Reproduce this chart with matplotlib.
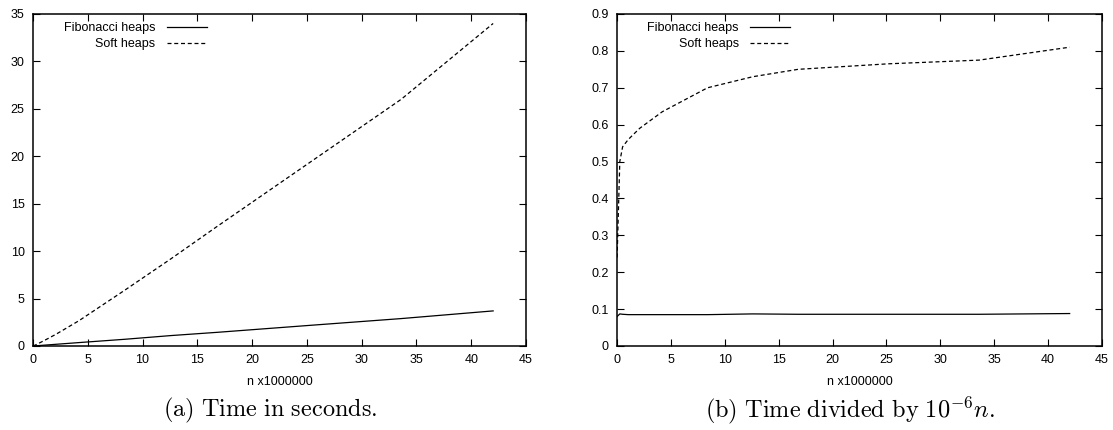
import matplotlib
matplotlib.use("Agg")
import matplotlib.pyplot as plt

plt.rcParams["font.family"] = ["Liberation Sans", "DejaVu Sans"]
plt.rcParams["mathtext.fontset"] = "cm"

# | ================= Data ================= |

N = [0.01, 0.26, 0.52, 1.05, 2.1, 4.2, 8.4, 12.6, 16.8, 25.2, 33.6, 42.0]

# (a) time in seconds
fib_time  = [0.0, 0.02, 0.045, 0.09, 0.18, 0.36, 0.71, 1.10, 1.44, 2.17, 2.89, 3.70]
soft_time = [0.0, 0.13, 0.28, 0.59, 1.24, 2.67, 5.90, 9.20, 12.6, 19.3, 26.0, 34.0]

# (b) time divided by 1e-6 n
fib_ratio  = [0.080, 0.087, 0.086, 0.085, 0.085, 0.085, 0.085, 0.087, 0.086, 0.086, 0.086, 0.088]
soft_ratio = [0.24, 0.50, 0.54, 0.56, 0.59, 0.635, 0.70, 0.73, 0.75, 0.765, 0.775, 0.81]

CAPTIONS = [r"$\mathrm{(a)\ Time\ in\ seconds.}$",
            r"$\mathrm{(b)\ Time\ divided\ by\ }10^{-6}n\mathrm{.}$"]

# | ================= Plot ================= |

W, H = 1113, 430
fig = plt.figure(figsize=(W / 100, H / 100), dpi=100)

def px_axes(x0, x1, y0, y1):
    return fig.add_axes([x0 / W, 1 - y1 / H, (x1 - x0) / W, (y1 - y0) / H])

ax_a = px_axes(33, 526, 14, 346)
ax_b = px_axes(617, 1102, 14, 346)

DASH = (0, (3.2, 2.2))

def style(ax, ymax, yticks):
    ax.set_xlim(0, 45)
    ax.set_ylim(0, ymax)
    ax.set_xticks(range(0, 46, 5))
    ax.set_yticks(yticks)
    ax.tick_params(direction="in", length=5, width=0.8, top=True, right=True,
                   labelsize=9, pad=6, colors="black")
    for s in ax.spines.values():
        s.set_linewidth(1.1)
    ax.set_xlabel("n x1000000", fontsize=9, labelpad=7)
    ax.legend(loc="upper left", bbox_to_anchor=(0.046, 1.0), frameon=False,
              markerfirst=False, fontsize=9, handlelength=3.2,
              handletextpad=0.9, labelspacing=0.3, borderaxespad=0.25)

ax_a.plot([0] + N, [0] + fib_time, color="black", lw=0.9, label="Fibonacci heaps")
ax_a.plot([0] + N, [0] + soft_time, color="black", lw=0.9, linestyle=DASH,
          label="Soft heaps")
style(ax_a, 35, range(0, 36, 5))

ax_b.plot(N, fib_ratio, color="black", lw=0.9, label="Fibonacci heaps")
ax_b.plot(N, soft_ratio, color="black", lw=0.9, linestyle=DASH, label="Soft heaps")
style(ax_b, 0.9, [i / 10 for i in range(10)])
ax_b.set_yticklabels(["0"] + [f"{i / 10:.1f}" for i in range(1, 10)])

fig.text(270 / W, 1 - 410 / H, CAPTIONS[0], ha="center", va="center", fontsize=17.5)
fig.text(850 / W, 1 - 410 / H, CAPTIONS[1], ha="center", va="center", fontsize=17.5)

fig.savefig("out.png", dpi=100, facecolor="white")
